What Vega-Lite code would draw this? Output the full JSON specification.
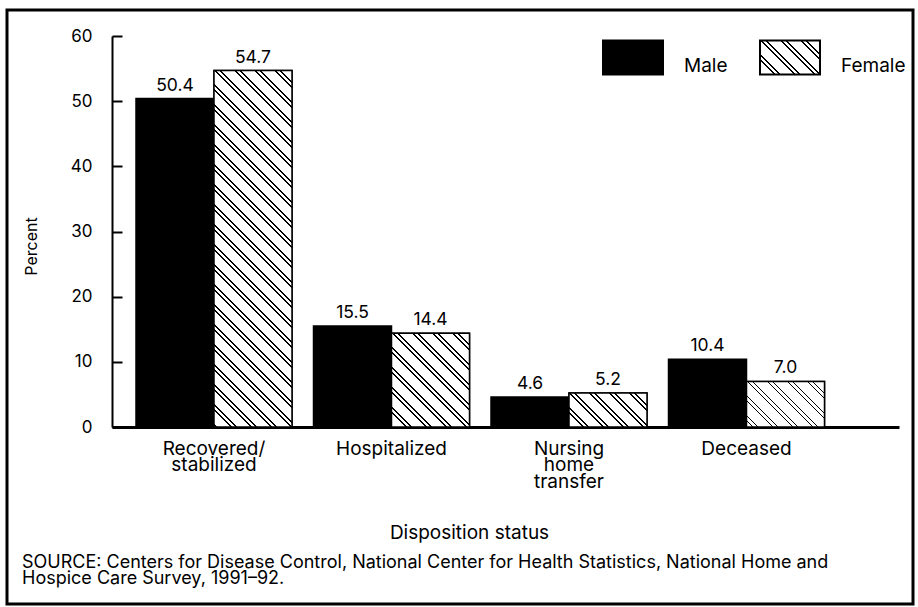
{
  "$schema": "https://vega.github.io/schema/vega-lite/v6.json",
  "autosize": {"type": "none"},
  "width": 906,
  "height": 594,
  "padding": {"left": 7, "top": 10, "right": 5, "bottom": 3},
  "background": "white",
  "config": {
    "font": "Inter",
    "view": {"stroke": "#000", "strokeWidth": 3},
    "axis": {"grid": false, "labelColor": "#000", "titleColor": "#000", "domainColor": "#000", "tickColor": "#000", "titleFontWeight": "normal"}
  },
  "title": {
    "text": ["SOURCE: Centers for Disease Control, National Center for Health Statistics, National Home and", "Hospice Care Survey, 1991–92."],
    "orient": "bottom", "anchor": "start", "frame": "group", "offset": -36, "dx": 15,
    "fontSize": 18, "fontWeight": "normal", "lineHeight": 16, "baseline": "alphabetic", "color": "#000", "font": "Inter"
  },
  "data": {"values": [
    {"cat": "Recovered/stabilized", "sex": "Male", "value": 50.4},
    {"cat": "Recovered/stabilized", "sex": "Female", "value": 54.7},
    {"cat": "Hospitalized", "sex": "Male", "value": 15.5},
    {"cat": "Hospitalized", "sex": "Female", "value": 14.4},
    {"cat": "Nursing home transfer", "sex": "Male", "value": 4.6},
    {"cat": "Nursing home transfer", "sex": "Female", "value": 5.2},
    {"cat": "Deceased", "sex": "Male", "value": 10.4},
    {"cat": "Deceased", "sex": "Female", "value": 7.0}
  ]},
  "encoding": {
    "x": {
      "field": "cat", "type": "nominal",
      "scale": {"domain": ["Recovered/stabilized", "Hospitalized", "Nursing home transfer", "Deceased"], "range": [105, 892], "paddingInner": 0.12113, "paddingOuter": 0.27746, "align": 0.2437},
      "axis": {
        "orient": "bottom", "offset": -177, "ticks": false, "tickSize": 0, "domainWidth": 3, "labelAngle": 0,
        "labelPadding": 12, "labelFontSize": 19, "labelLineHeight": 16.5, "labelFont": "Inter",
        "labelExpr": "datum.value === 'Recovered/stabilized' ? ['Recovered/', 'stabilized'] : datum.value === 'Nursing home transfer' ? ['Nursing', 'home', 'transfer'] : datum.label",
        "title": "Disposition status", "titleFontSize": 19, "titlePadding": 32, "titleX": 462, "titleFont": "Inter"
      }
    },
    "xOffset": {"field": "sex", "type": "nominal", "scale": {"domain": ["Male", "Female"], "paddingInner": 0, "paddingOuter": 0}},
    "y": {
      "field": "value", "type": "quantitative",
      "scale": {"domain": [0, 60], "range": [417, 26], "nice": false},
      "axis": {
        "orient": "left", "offset": -105, "values": [0, 10, 20, 30, 40, 50, 60], "tickSize": -10, "tickWidth": 2, "domainWidth": 2,
        "labelPadding": 30, "labelFontSize": 17, "labelFont": "Inter",
        "title": "Percent", "titleFontSize": 16, "titlePadding": 31, "titleY": 236, "titleFont": "Inter"
      }
    }
  },
  "layer": [
    {
      "mark": {"type": "bar", "strokeWidth": 1.5},
      "encoding": {
        "color": {
          "field": "sex", "type": "nominal",
          "scale": {"domain": ["Female", "Male"], "range": ["#fff", "#000"]},
          "legend": null
        },
        "stroke": {
          "field": "sex", "type": "nominal",
          "scale": {"domain": ["Male", "Female"], "range": ["#000", "#000"]},
          "legend": {
            "orient": "none", "legendX": 595, "legendY": 16, "direction": "horizontal", "title": null,
            "symbolType": "M-1,-0.5667H1V0.5667H-1Z", "symbolSize": 3600, "symbolStrokeWidth": 2, "symbolOpacity": 1,
            "labelFont": "Inter", "labelFontSize": 19, "labelColor": "#000", "labelOffset": 20, "labelBaseline": "top",
            "columnPadding": 28, "padding": 0,
            "symbolFillColor": {"expr": "datum.value === 'Female' ? {gradient: 'linear', x1: 0, y1: 1, x2: 1.18587, y2: 0.32801, stops: [{offset: 0.14894, color: '#fff'}, {offset: 0.14894, color: '#000'}, {offset: 0.16809, color: '#000'}, {offset: 0.16809, color: '#fff'}, {offset: 0.20213, color: '#fff'}, {offset: 0.20213, color: '#000'}, {offset: 0.22128, color: '#000'}, {offset: 0.22128, color: '#fff'}, {offset: 0.36170, color: '#fff'}, {offset: 0.36170, color: '#000'}, {offset: 0.38085, color: '#000'}, {offset: 0.38085, color: '#fff'}, {offset: 0.41489, color: '#fff'}, {offset: 0.41489, color: '#000'}, {offset: 0.43404, color: '#000'}, {offset: 0.43404, color: '#fff'}, {offset: 0.57447, color: '#fff'}, {offset: 0.57447, color: '#000'}, {offset: 0.59362, color: '#000'}, {offset: 0.59362, color: '#fff'}, {offset: 0.62766, color: '#fff'}, {offset: 0.62766, color: '#000'}, {offset: 0.64681, color: '#000'}, {offset: 0.64681, color: '#fff'}, {offset: 0.78723, color: '#fff'}, {offset: 0.78723, color: '#000'}, {offset: 0.80638, color: '#000'}, {offset: 0.80638, color: '#fff'}, {offset: 0.84043, color: '#fff'}, {offset: 0.84043, color: '#000'}, {offset: 0.85958, color: '#000'}, {offset: 0.85958, color: '#fff'}]} : '#000'"}
          }
        }
      }
    },
    {
      "transform": [{"filter": "datum.sex === 'Female' && datum.cat === 'Recovered/stabilized'"}],
      "mark": {"type": "bar", "stroke": "#000", "strokeWidth": 1.5, "fill": {"gradient": "linear", "x1": 0, "y1": 1, "x2": 0.25451, "y2": -0.16313, "stops": [
        {"offset":0.00336,"color":"#fff"},{"offset":0.00336,"color":"#000"},{"offset":0.00750,"color":"#000"},{"offset":0.00750,"color":"#fff"},
        {"offset":0.03789,"color":"#fff"},{"offset":0.03789,"color":"#000"},{"offset":0.04203,"color":"#000"},{"offset":0.04203,"color":"#fff"},
        {"offset":0.04939,"color":"#fff"},{"offset":0.04939,"color":"#000"},{"offset":0.05354,"color":"#000"},{"offset":0.05354,"color":"#fff"},
        {"offset":0.08392,"color":"#fff"},{"offset":0.08392,"color":"#000"},{"offset":0.08806,"color":"#000"},{"offset":0.08806,"color":"#fff"},
        {"offset":0.09543,"color":"#fff"},{"offset":0.09543,"color":"#000"},{"offset":0.09957,"color":"#000"},{"offset":0.09957,"color":"#fff"},
        {"offset":0.12995,"color":"#fff"},{"offset":0.12995,"color":"#000"},{"offset":0.13410,"color":"#000"},{"offset":0.13410,"color":"#fff"},
        {"offset":0.14146,"color":"#fff"},{"offset":0.14146,"color":"#000"},{"offset":0.14561,"color":"#000"},{"offset":0.14561,"color":"#fff"},
        {"offset":0.17599,"color":"#fff"},{"offset":0.17599,"color":"#000"},{"offset":0.18013,"color":"#000"},{"offset":0.18013,"color":"#fff"},
        {"offset":0.18750,"color":"#fff"},{"offset":0.18750,"color":"#000"},{"offset":0.19164,"color":"#000"},{"offset":0.19164,"color":"#fff"},
        {"offset":0.22202,"color":"#fff"},{"offset":0.22202,"color":"#000"},{"offset":0.22616,"color":"#000"},{"offset":0.22616,"color":"#fff"},
        {"offset":0.23353,"color":"#fff"},{"offset":0.23353,"color":"#000"},{"offset":0.23767,"color":"#000"},{"offset":0.23767,"color":"#fff"},
        {"offset":0.26806,"color":"#fff"},{"offset":0.26806,"color":"#000"},{"offset":0.27220,"color":"#000"},{"offset":0.27220,"color":"#fff"},
        {"offset":0.27956,"color":"#fff"},{"offset":0.27956,"color":"#000"},{"offset":0.28371,"color":"#000"},{"offset":0.28371,"color":"#fff"},
        {"offset":0.31409,"color":"#fff"},{"offset":0.31409,"color":"#000"},{"offset":0.31823,"color":"#000"},{"offset":0.31823,"color":"#fff"},
        {"offset":0.32560,"color":"#fff"},{"offset":0.32560,"color":"#000"},{"offset":0.32974,"color":"#000"},{"offset":0.32974,"color":"#fff"},
        {"offset":0.36012,"color":"#fff"},{"offset":0.36012,"color":"#000"},{"offset":0.36427,"color":"#000"},{"offset":0.36427,"color":"#fff"},
        {"offset":0.37163,"color":"#fff"},{"offset":0.37163,"color":"#000"},{"offset":0.37578,"color":"#000"},{"offset":0.37578,"color":"#fff"},
        {"offset":0.40616,"color":"#fff"},{"offset":0.40616,"color":"#000"},{"offset":0.41030,"color":"#000"},{"offset":0.41030,"color":"#fff"},
        {"offset":0.41767,"color":"#fff"},{"offset":0.41767,"color":"#000"},{"offset":0.42181,"color":"#000"},{"offset":0.42181,"color":"#fff"},
        {"offset":0.45219,"color":"#fff"},{"offset":0.45219,"color":"#000"},{"offset":0.45633,"color":"#000"},{"offset":0.45633,"color":"#fff"},
        {"offset":0.46370,"color":"#fff"},{"offset":0.46370,"color":"#000"},{"offset":0.46785,"color":"#000"},{"offset":0.46785,"color":"#fff"},
        {"offset":0.49823,"color":"#fff"},{"offset":0.49823,"color":"#000"},{"offset":0.50237,"color":"#000"},{"offset":0.50237,"color":"#fff"},
        {"offset":0.50974,"color":"#fff"},{"offset":0.50974,"color":"#000"},{"offset":0.51388,"color":"#000"},{"offset":0.51388,"color":"#fff"},
        {"offset":0.54426,"color":"#fff"},{"offset":0.54426,"color":"#000"},{"offset":0.54840,"color":"#000"},{"offset":0.54840,"color":"#fff"},
        {"offset":0.55577,"color":"#fff"},{"offset":0.55577,"color":"#000"},{"offset":0.55991,"color":"#000"},{"offset":0.55991,"color":"#fff"},
        {"offset":0.59029,"color":"#fff"},{"offset":0.59029,"color":"#000"},{"offset":0.59444,"color":"#000"},{"offset":0.59444,"color":"#fff"},
        {"offset":0.60180,"color":"#fff"},{"offset":0.60180,"color":"#000"},{"offset":0.60595,"color":"#000"},{"offset":0.60595,"color":"#fff"},
        {"offset":0.63633,"color":"#fff"},{"offset":0.63633,"color":"#000"},{"offset":0.64047,"color":"#000"},{"offset":0.64047,"color":"#fff"},
        {"offset":0.64784,"color":"#fff"},{"offset":0.64784,"color":"#000"},{"offset":0.65198,"color":"#000"},{"offset":0.65198,"color":"#fff"},
        {"offset":0.68236,"color":"#fff"},{"offset":0.68236,"color":"#000"},{"offset":0.68650,"color":"#000"},{"offset":0.68650,"color":"#fff"},
        {"offset":0.69387,"color":"#fff"},{"offset":0.69387,"color":"#000"},{"offset":0.69802,"color":"#000"},{"offset":0.69802,"color":"#fff"},
        {"offset":0.72840,"color":"#fff"},{"offset":0.72840,"color":"#000"},{"offset":0.73254,"color":"#000"},{"offset":0.73254,"color":"#fff"},
        {"offset":0.73991,"color":"#fff"},{"offset":0.73991,"color":"#000"},{"offset":0.74405,"color":"#000"},{"offset":0.74405,"color":"#fff"},
        {"offset":0.77443,"color":"#fff"},{"offset":0.77443,"color":"#000"},{"offset":0.77857,"color":"#000"},{"offset":0.77857,"color":"#fff"},
        {"offset":0.78594,"color":"#fff"},{"offset":0.78594,"color":"#000"},{"offset":0.79008,"color":"#000"},{"offset":0.79008,"color":"#fff"},
        {"offset":0.82046,"color":"#fff"},{"offset":0.82046,"color":"#000"},{"offset":0.82461,"color":"#000"},{"offset":0.82461,"color":"#fff"},
        {"offset":0.83197,"color":"#fff"},{"offset":0.83197,"color":"#000"},{"offset":0.83612,"color":"#000"},{"offset":0.83612,"color":"#fff"},
        {"offset":0.86650,"color":"#fff"},{"offset":0.86650,"color":"#000"},{"offset":0.87064,"color":"#000"},{"offset":0.87064,"color":"#fff"},
        {"offset":0.87801,"color":"#fff"},{"offset":0.87801,"color":"#000"},{"offset":0.88215,"color":"#000"},{"offset":0.88215,"color":"#fff"},
        {"offset":0.91253,"color":"#fff"},{"offset":0.91253,"color":"#000"},{"offset":0.91668,"color":"#000"},{"offset":0.91668,"color":"#fff"},
        {"offset":0.92404,"color":"#fff"},{"offset":0.92404,"color":"#000"},{"offset":0.92819,"color":"#000"},{"offset":0.92819,"color":"#fff"},
        {"offset":0.95857,"color":"#fff"},{"offset":0.95857,"color":"#000"},{"offset":0.96271,"color":"#000"},{"offset":0.96271,"color":"#fff"},
        {"offset":0.97008,"color":"#fff"},{"offset":0.97008,"color":"#000"},{"offset":0.97422,"color":"#000"},{"offset":0.97422,"color":"#fff"}
      ]}}
    },
    {
      "transform": [{"filter": "datum.sex === 'Female' && datum.cat === 'Hospitalized'"}],
      "mark": {"type": "bar", "stroke": "#000", "strokeWidth": 1.5, "fill": {"gradient": "linear", "x1": 0, "y1": 1, "x2": 0.90017, "y2": -0.083, "stops": [
        {"offset":0.08054,"color":"#fff"},{"offset":0.08054,"color":"#000"},{"offset":0.09102,"color":"#000"},{"offset":0.09102,"color":"#fff"},
        {"offset":0.10964,"color":"#fff"},{"offset":0.10964,"color":"#000"},{"offset":0.12011,"color":"#000"},{"offset":0.12011,"color":"#fff"},
        {"offset":0.19693,"color":"#fff"},{"offset":0.19693,"color":"#000"},{"offset":0.20740,"color":"#000"},{"offset":0.20740,"color":"#fff"},
        {"offset":0.22602,"color":"#fff"},{"offset":0.22602,"color":"#000"},{"offset":0.23650,"color":"#000"},{"offset":0.23650,"color":"#fff"},
        {"offset":0.31331,"color":"#fff"},{"offset":0.31331,"color":"#000"},{"offset":0.32379,"color":"#000"},{"offset":0.32379,"color":"#fff"},
        {"offset":0.34241,"color":"#fff"},{"offset":0.34241,"color":"#000"},{"offset":0.35289,"color":"#000"},{"offset":0.35289,"color":"#fff"},
        {"offset":0.42970,"color":"#fff"},{"offset":0.42970,"color":"#000"},{"offset":0.44018,"color":"#000"},{"offset":0.44018,"color":"#fff"},
        {"offset":0.45880,"color":"#fff"},{"offset":0.45880,"color":"#000"},{"offset":0.46927,"color":"#000"},{"offset":0.46927,"color":"#fff"},
        {"offset":0.54609,"color":"#fff"},{"offset":0.54609,"color":"#000"},{"offset":0.55656,"color":"#000"},{"offset":0.55656,"color":"#fff"},
        {"offset":0.57519,"color":"#fff"},{"offset":0.57519,"color":"#000"},{"offset":0.58566,"color":"#000"},{"offset":0.58566,"color":"#fff"},
        {"offset":0.66248,"color":"#fff"},{"offset":0.66248,"color":"#000"},{"offset":0.67295,"color":"#000"},{"offset":0.67295,"color":"#fff"},
        {"offset":0.69157,"color":"#fff"},{"offset":0.69157,"color":"#000"},{"offset":0.70205,"color":"#000"},{"offset":0.70205,"color":"#fff"},
        {"offset":0.77886,"color":"#fff"},{"offset":0.77886,"color":"#000"},{"offset":0.78934,"color":"#000"},{"offset":0.78934,"color":"#fff"},
        {"offset":0.80796,"color":"#fff"},{"offset":0.80796,"color":"#000"},{"offset":0.81843,"color":"#000"},{"offset":0.81843,"color":"#fff"},
        {"offset":0.89525,"color":"#fff"},{"offset":0.89525,"color":"#000"},{"offset":0.90572,"color":"#000"},{"offset":0.90572,"color":"#fff"},
        {"offset":0.92435,"color":"#fff"},{"offset":0.92435,"color":"#000"},{"offset":0.93482,"color":"#000"},{"offset":0.93482,"color":"#fff"}
      ]}}
    },
    {
      "transform": [{"filter": "datum.sex === 'Female' && datum.cat === 'Nursing home transfer'"}],
      "mark": {"type": "bar", "stroke": "#000", "strokeWidth": 1.5, "fill": {"gradient": "linear", "x1": 0, "y1": 1, "x2": 1.20668, "y2": 0.47576, "stops": [
        {"offset":0.12412,"color":"#fff"},{"offset":0.12412,"color":"#000"},{"offset":0.14020,"color":"#000"},{"offset":0.14020,"color":"#fff"},
        {"offset":0.16880,"color":"#fff"},{"offset":0.16880,"color":"#000"},{"offset":0.18489,"color":"#000"},{"offset":0.18489,"color":"#fff"},
        {"offset":0.30287,"color":"#fff"},{"offset":0.30287,"color":"#000"},{"offset":0.31896,"color":"#000"},{"offset":0.31896,"color":"#fff"},
        {"offset":0.34756,"color":"#fff"},{"offset":0.34756,"color":"#000"},{"offset":0.36364,"color":"#000"},{"offset":0.36364,"color":"#fff"},
        {"offset":0.48162,"color":"#fff"},{"offset":0.48162,"color":"#000"},{"offset":0.49771,"color":"#000"},{"offset":0.49771,"color":"#fff"},
        {"offset":0.52631,"color":"#fff"},{"offset":0.52631,"color":"#000"},{"offset":0.54239,"color":"#000"},{"offset":0.54239,"color":"#fff"},
        {"offset":0.66037,"color":"#fff"},{"offset":0.66037,"color":"#000"},{"offset":0.67646,"color":"#000"},{"offset":0.67646,"color":"#fff"},
        {"offset":0.70506,"color":"#fff"},{"offset":0.70506,"color":"#000"},{"offset":0.72115,"color":"#000"},{"offset":0.72115,"color":"#fff"},
        {"offset":0.83912,"color":"#fff"},{"offset":0.83912,"color":"#000"},{"offset":0.85521,"color":"#000"},{"offset":0.85521,"color":"#fff"},
        {"offset":0.88381,"color":"#fff"},{"offset":0.88381,"color":"#000"},{"offset":0.89990,"color":"#000"},{"offset":0.89990,"color":"#fff"}
      ]}}
    },
    {
      "transform": [{"filter": "datum.sex === 'Female' && datum.cat === 'Deceased'"}],
      "mark": {"type": "bar", "stroke": "#000", "strokeWidth": 1.5, "fill": {"gradient": "linear", "x1": 0, "y1": 1, "x2": 1.18092, "y2": 0.30936, "stops": [
        {"offset":0.04544,"color":"#fff"},{"offset":0.04544,"color":"#000"},{"offset":0.06000,"color":"#000"},{"offset":0.06000,"color":"#fff"},
        {"offset":0.08589,"color":"#fff"},{"offset":0.08589,"color":"#000"},{"offset":0.10045,"color":"#000"},{"offset":0.10045,"color":"#fff"},
        {"offset":0.20723,"color":"#fff"},{"offset":0.20723,"color":"#000"},{"offset":0.22179,"color":"#000"},{"offset":0.22179,"color":"#fff"},
        {"offset":0.24768,"color":"#fff"},{"offset":0.24768,"color":"#000"},{"offset":0.26224,"color":"#000"},{"offset":0.26224,"color":"#fff"},
        {"offset":0.36902,"color":"#fff"},{"offset":0.36902,"color":"#000"},{"offset":0.38358,"color":"#000"},{"offset":0.38358,"color":"#fff"},
        {"offset":0.40947,"color":"#fff"},{"offset":0.40947,"color":"#000"},{"offset":0.42403,"color":"#000"},{"offset":0.42403,"color":"#fff"},
        {"offset":0.53081,"color":"#fff"},{"offset":0.53081,"color":"#000"},{"offset":0.54537,"color":"#000"},{"offset":0.54537,"color":"#fff"},
        {"offset":0.57126,"color":"#fff"},{"offset":0.57126,"color":"#000"},{"offset":0.58582,"color":"#000"},{"offset":0.58582,"color":"#fff"},
        {"offset":0.69260,"color":"#fff"},{"offset":0.69260,"color":"#000"},{"offset":0.70716,"color":"#000"},{"offset":0.70716,"color":"#fff"},
        {"offset":0.73305,"color":"#fff"},{"offset":0.73305,"color":"#000"},{"offset":0.74761,"color":"#000"},{"offset":0.74761,"color":"#fff"},
        {"offset":0.85439,"color":"#fff"},{"offset":0.85439,"color":"#000"},{"offset":0.86895,"color":"#000"},{"offset":0.86895,"color":"#fff"},
        {"offset":0.89484,"color":"#fff"},{"offset":0.89484,"color":"#000"},{"offset":0.90940,"color":"#000"},{"offset":0.90940,"color":"#fff"}
      ]}}
    },
    {
      "mark": {"type": "text", "dy": -8, "baseline": "alphabetic", "fontSize": 17.5, "font": "Inter", "color": "#000"},
      "encoding": {"text": {"field": "value", "type": "quantitative", "format": ".1f"}}
    }
  ]
}
